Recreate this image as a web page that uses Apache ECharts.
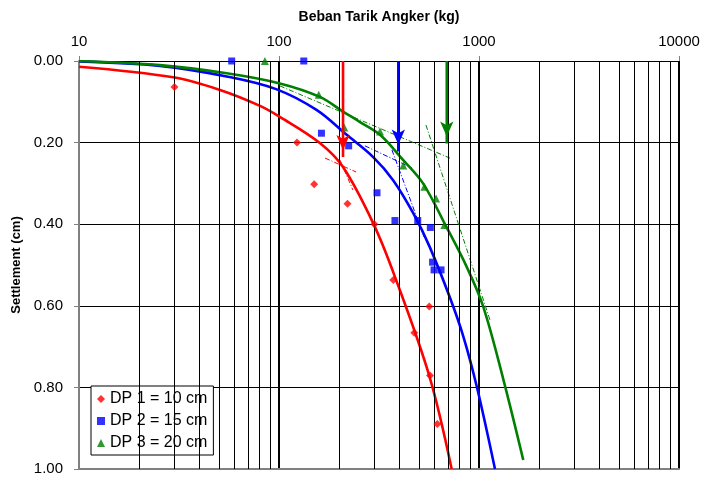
<!DOCTYPE html>
<html>
<head>
<meta charset="utf-8">
<script src="https://cdn.jsdelivr.net/npm/echarts@6/dist/echarts.min.js"></script>
<style>html,body{margin:0;padding:0;background:#fff}#c{width:703px;height:478px}</style>
</head>
<body>
<div id="c"></div>
<script>
// ---- data ----
const minorLoads = [20,30,40,50,60,70,80,90,200,300,400,500,600,700,800,900,2000,3000,4000,5000,6000,7000,8000,9000];

const dp1Load   = [30, 123, 150, 220, 300, 373, 475, 564, 569, 619];
const dp1Settle = [0.064, 0.200, 0.302, 0.350, 0.400, 0.537, 0.666, 0.602, 0.771, 0.890];

const dp2Load   = [58, 133, 163, 223, 309, 380, 494, 571, 586, 596, 646];
const dp2Settle = [0, 0, 0.177, 0.208, 0.323, 0.391, 0.391, 0.408, 0.493, 0.512, 0.512];

const dp3Load   = [85, 158, 212, 320, 418, 533, 610, 671];
const dp3Settle = [0, 0.083, 0.163, 0.173, 0.256, 0.308, 0.337, 0.402];

const fit1Load   = [10, 29.6, 50.7, 80.4, 101, 160, 209, 296, 380, 566, 730];
const fit1Settle = [0.014, 0.040, 0.071, 0.110, 0.137, 0.201, 0.260, 0.398, 0.529, 0.774, 1.0];

const fit2Load   = [10, 25.4, 54.8, 96.7, 154, 218, 295, 372, 469, 566, 713, 836, 978, 1202];
const fit2Settle = [0.001, 0.012, 0.038, 0.069, 0.120, 0.181, 0.235, 0.292, 0.373, 0.455, 0.578, 0.676, 0.801, 1.0];

const fit3Load   = [10, 25.4, 54.8, 101, 160, 209, 253, 320, 418, 525, 686, 867, 1050, 1326, 1665];
const fit3Settle = [0.0, 0.010, 0.030, 0.055, 0.088, 0.124, 0.149, 0.181, 0.243, 0.300, 0.406, 0.504, 0.602, 0.782, 0.978];

const arrowLoad   = [209, 395, 690];
const arrowSettle = [0.235, 0.222, 0.202];

const tan1A = [[170, 0.238], [243, 0.272]];
const tan1B = [[202, 0.243], [234, 0.316]];
const tan2A = [[269, 0.208], [462, 0.262]];
const tan2B = [[367, 0.218], [531, 0.431]];
const tan3A = [[101, 0.061], [716, 0.238]];
const tan3B = [[543, 0.157], [1135, 0.635]];

const names  = ['DP 1 = 10 cm', 'DP 2 = 15 cm', 'DP 3 = 20 cm'];
const colors = ['#FF0000', '#0000FF', '#008000'];
// ---------------------------------------

const zip = (a, b) => a.map((v, i) => [v, b[i]]);
const FONT = "'Liberation Sans', Arial, sans-serif";

function fitSeries(load, settle, color) {
  return { type: 'line', data: zip(load, settle), smooth: 0.35, showSymbol: false, symbol: 'none',
           lineStyle: { color: color, width: 2.6 }, z: 4, silent: true };
}
function tanSeries(pts, color) {
  return { type: 'line', data: pts, showSymbol: false, symbol: 'none',
           lineStyle: { color: color, width: 1, type: [5, 2, 1, 2] }, z: 3, silent: true };
}
function arrowSeries(i) {
  return { type: 'line', z: 6, silent: true,
    data: [
      { value: [arrowLoad[i], 0], symbol: 'none' },
      { value: [arrowLoad[i], arrowSettle[i]], symbol: 'arrow', symbolSize: [10, 15], symbolRotate: 180, symbolOffset: [0, -7] }
    ],
    showAllSymbol: true,
    itemStyle: { color: colors[i] },
    lineStyle: { color: colors[i], width: 2.6 } };
}

const chart = echarts.init(document.getElementById('c'), null, { renderer: 'canvas' });
chart.setOption({
  animation: false,
  backgroundColor: '#fff',
  grid: { left: 79, right: 24, top: 61, bottom: 9, containLabel: false },
  xAxis: [{
    type: 'log', logBase: 10, min: 10, max: 10000, position: 'top',
    name: 'Beban Tarik Angker (kg)', nameLocation: 'middle', nameGap: 37,
    nameTextStyle: { fontFamily: FONT, fontWeight: 'bold', fontSize: 14, color: '#000' },
    axisLine: { show: true, lineStyle: { color: '#000', width: 1 } },
    axisTick: { show: true, length: 5, lineStyle: { color: '#808080' } },
    axisLabel: { fontFamily: FONT, fontSize: 15, color: '#000', margin: 12, formatter: v => String(v) },
    splitLine: { show: true, lineStyle: { color: '#000', width: 2 } }
  }, {
    type: 'log', logBase: 10, min: 10, max: 10000, position: 'bottom',
    axisLine: { show: true, lineStyle: { color: '#808080', width: 2 } },
    axisTick: { show: false }, axisLabel: { show: false }, splitLine: { show: false }
  }],
  yAxis: {
    type: 'value', inverse: true, min: 0, max: 1, interval: 0.2,
    name: 'Settlement (cm)', nameLocation: 'middle', nameGap: 54,
    nameTextStyle: { fontFamily: FONT, fontWeight: 'bold', fontSize: 13, color: '#000' },
    axisLine: { show: true, lineStyle: { color: '#808080', width: 2 } },
    axisTick: { show: true, length: 5, lineStyle: { color: '#808080' } },
    axisLabel: { fontFamily: FONT, fontSize: 15, color: '#000', margin: 16, formatter: v => v.toFixed(2) },
    splitLine: { show: true, lineStyle: { color: '#000', width: 1 } }
  },
  legend: {
    orient: 'vertical', left: 91, top: 386,
    data: [
      { name: names[0], icon: 'diamond' },
      { name: names[1], icon: 'rect' },
      { name: names[2], icon: 'triangle' }
    ],
    itemWidth: 8, itemHeight: 8, itemGap: 6,
    padding: [5, 6, 4, 6],
    backgroundColor: '#fff', borderColor: '#000', borderWidth: 1, borderRadius: 0,
    textStyle: { fontFamily: FONT, fontSize: 16, color: '#000' }
  },
  series: [
    { type: 'scatter', data: [], silent: true, z: 1,
      markLine: { silent: true, symbol: 'none', label: { show: false },
        lineStyle: { color: '#000', width: 1, type: 'solid' },
        data: minorLoads.map(v => ({ xAxis: v })) } },
    tanSeries(tan1A, colors[0]), tanSeries(tan1B, colors[0]),
    tanSeries(tan2A, colors[1]), tanSeries(tan2B, colors[1]),
    tanSeries(tan3A, colors[2]), tanSeries(tan3B, colors[2]),
    fitSeries(fit1Load, fit1Settle, colors[0]),
    fitSeries(fit2Load, fit2Settle, colors[1]),
    fitSeries(fit3Load, fit3Settle, colors[2]),
    { name: names[0], type: 'scatter', data: zip(dp1Load, dp1Settle), symbol: 'diamond', symbolSize: 8,
      itemStyle: { color: colors[0] }, z: 5, clip: false },
    { name: names[1], type: 'scatter', data: zip(dp2Load, dp2Settle), symbol: 'rect', symbolSize: 7,
      itemStyle: { color: colors[1] }, z: 5, clip: false },
    { name: names[2], type: 'scatter', data: zip(dp3Load, dp3Settle), symbol: 'triangle', symbolSize: 8,
      itemStyle: { color: colors[2] }, z: 5, clip: false },
    arrowSeries(0), arrowSeries(1), arrowSeries(2)
  ]
});
</script>
</body>
</html>
